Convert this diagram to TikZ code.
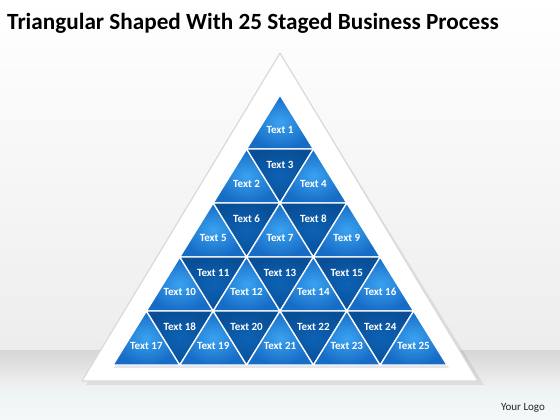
\documentclass[tikz,border=0pt]{standalone}
\usepackage{fontspec}
\setmainfont{Carlito}
\definecolor{upin}{HTML}{3AA2F0}
\definecolor{upout}{HTML}{176CC6}
\definecolor{dnin}{HTML}{0D62B4}
\definecolor{dnout}{HTML}{094F98}
\definecolor{bgtop}{HTML}{FFFFFF}
\definecolor{bgmid}{HTML}{EDEDED}
\definecolor{bandtop}{HTML}{D6D6D6}
\definecolor{bandbot}{HTML}{F2F2F2}
\definecolor{floortop}{HTML}{EDF3F5}
\definecolor{floorbot}{HTML}{F5F8F9}
\definecolor{rim}{HTML}{DADADA}
\begin{document}
\begin{tikzpicture}[x=1pt,y=-1pt,
  lbl/.style={text=white,font=\bfseries\fontsize{11}{13}\selectfont,inner sep=0pt},
  upshade/.style={inner color=upin,outer color=upout},
  dnshade/.style={inner color=dnin,outer color=dnout},
  sep/.style={draw=white,line width=1.3pt,line join=round},
  titlestyle/.style={font=\bfseries\fontsize{23.2}{27}\selectfont,text=black,inner sep=0pt,anchor=base west},
  logostyle/.style={font=\fontsize{11}{13}\selectfont,text=black!85,inner sep=0pt}]
\useasboundingbox (0,0) rectangle (560,420);
% background
\shade[top color=bgtop,bottom color=bgmid] (0,0) rectangle (560,350);
\shade[top color=bandtop,bottom color=bandbot] (0,350) rectangle (560,388);
\shade[top color=floortop,bottom color=floorbot] (0,388) rectangle (560,420);
% title
\node[titlestyle] (title) at (7,30) {Triangular Shaped With 25 Staged Business Process};
% outer frame triangle
\fill[black,opacity=0.07] (282,57) -- (86,385) -- (484,385) -- cycle;
\fill[white,draw=rim,line width=1.2pt,line join=round] (280,53) -- (82,381) -- (478,381) -- cycle;
% inner shadow
\fill[black,opacity=0.10] (281,97) -- (114,368) -- (449,368) -- cycle;
% blue triangles
\foreach \r in {0,...,4}{
  \pgfmathtruncatemacro\jmax{2*\r}
  \foreach \j in {0,...,\jmax}{
    \pgfmathtruncatemacro\n{\r*\r+1+\j}
    \pgfmathsetmacro\yt{95+54*\r}
    \pgfmathsetmacro\yb{\yt+54}
    \pgfmathtruncatemacro\isup{mod(\j,2)==0 ? 1 : 0}
    \pgfmathsetmacro\cx{280+(\j-\r)*33.4}
    \ifnum\isup=1
      \shade[upshade] (\cx,\yt) -- (\cx-33.4,\yb) -- (\cx+33.4,\yb) -- cycle;
      \draw[sep] (\cx,\yt) -- (\cx-33.4,\yb) -- (\cx+33.4,\yb) -- cycle;
      \node[lbl] (t\n) at (\cx,\yt+35) {Text \n};
    \else
      \shade[dnshade] (\cx-33.4,\yt) -- (\cx+33.4,\yt) -- (\cx,\yb) -- cycle;
      \draw[sep] (\cx-33.4,\yt) -- (\cx+33.4,\yt) -- (\cx,\yb) -- cycle;
      \node[lbl] (t\n) at (\cx,\yt+16) {Text \n};
    \fi
  }
}
% logo
\node[logostyle] (logo) at (523,408) {Your Logo};
\end{tikzpicture}
\end{document}
